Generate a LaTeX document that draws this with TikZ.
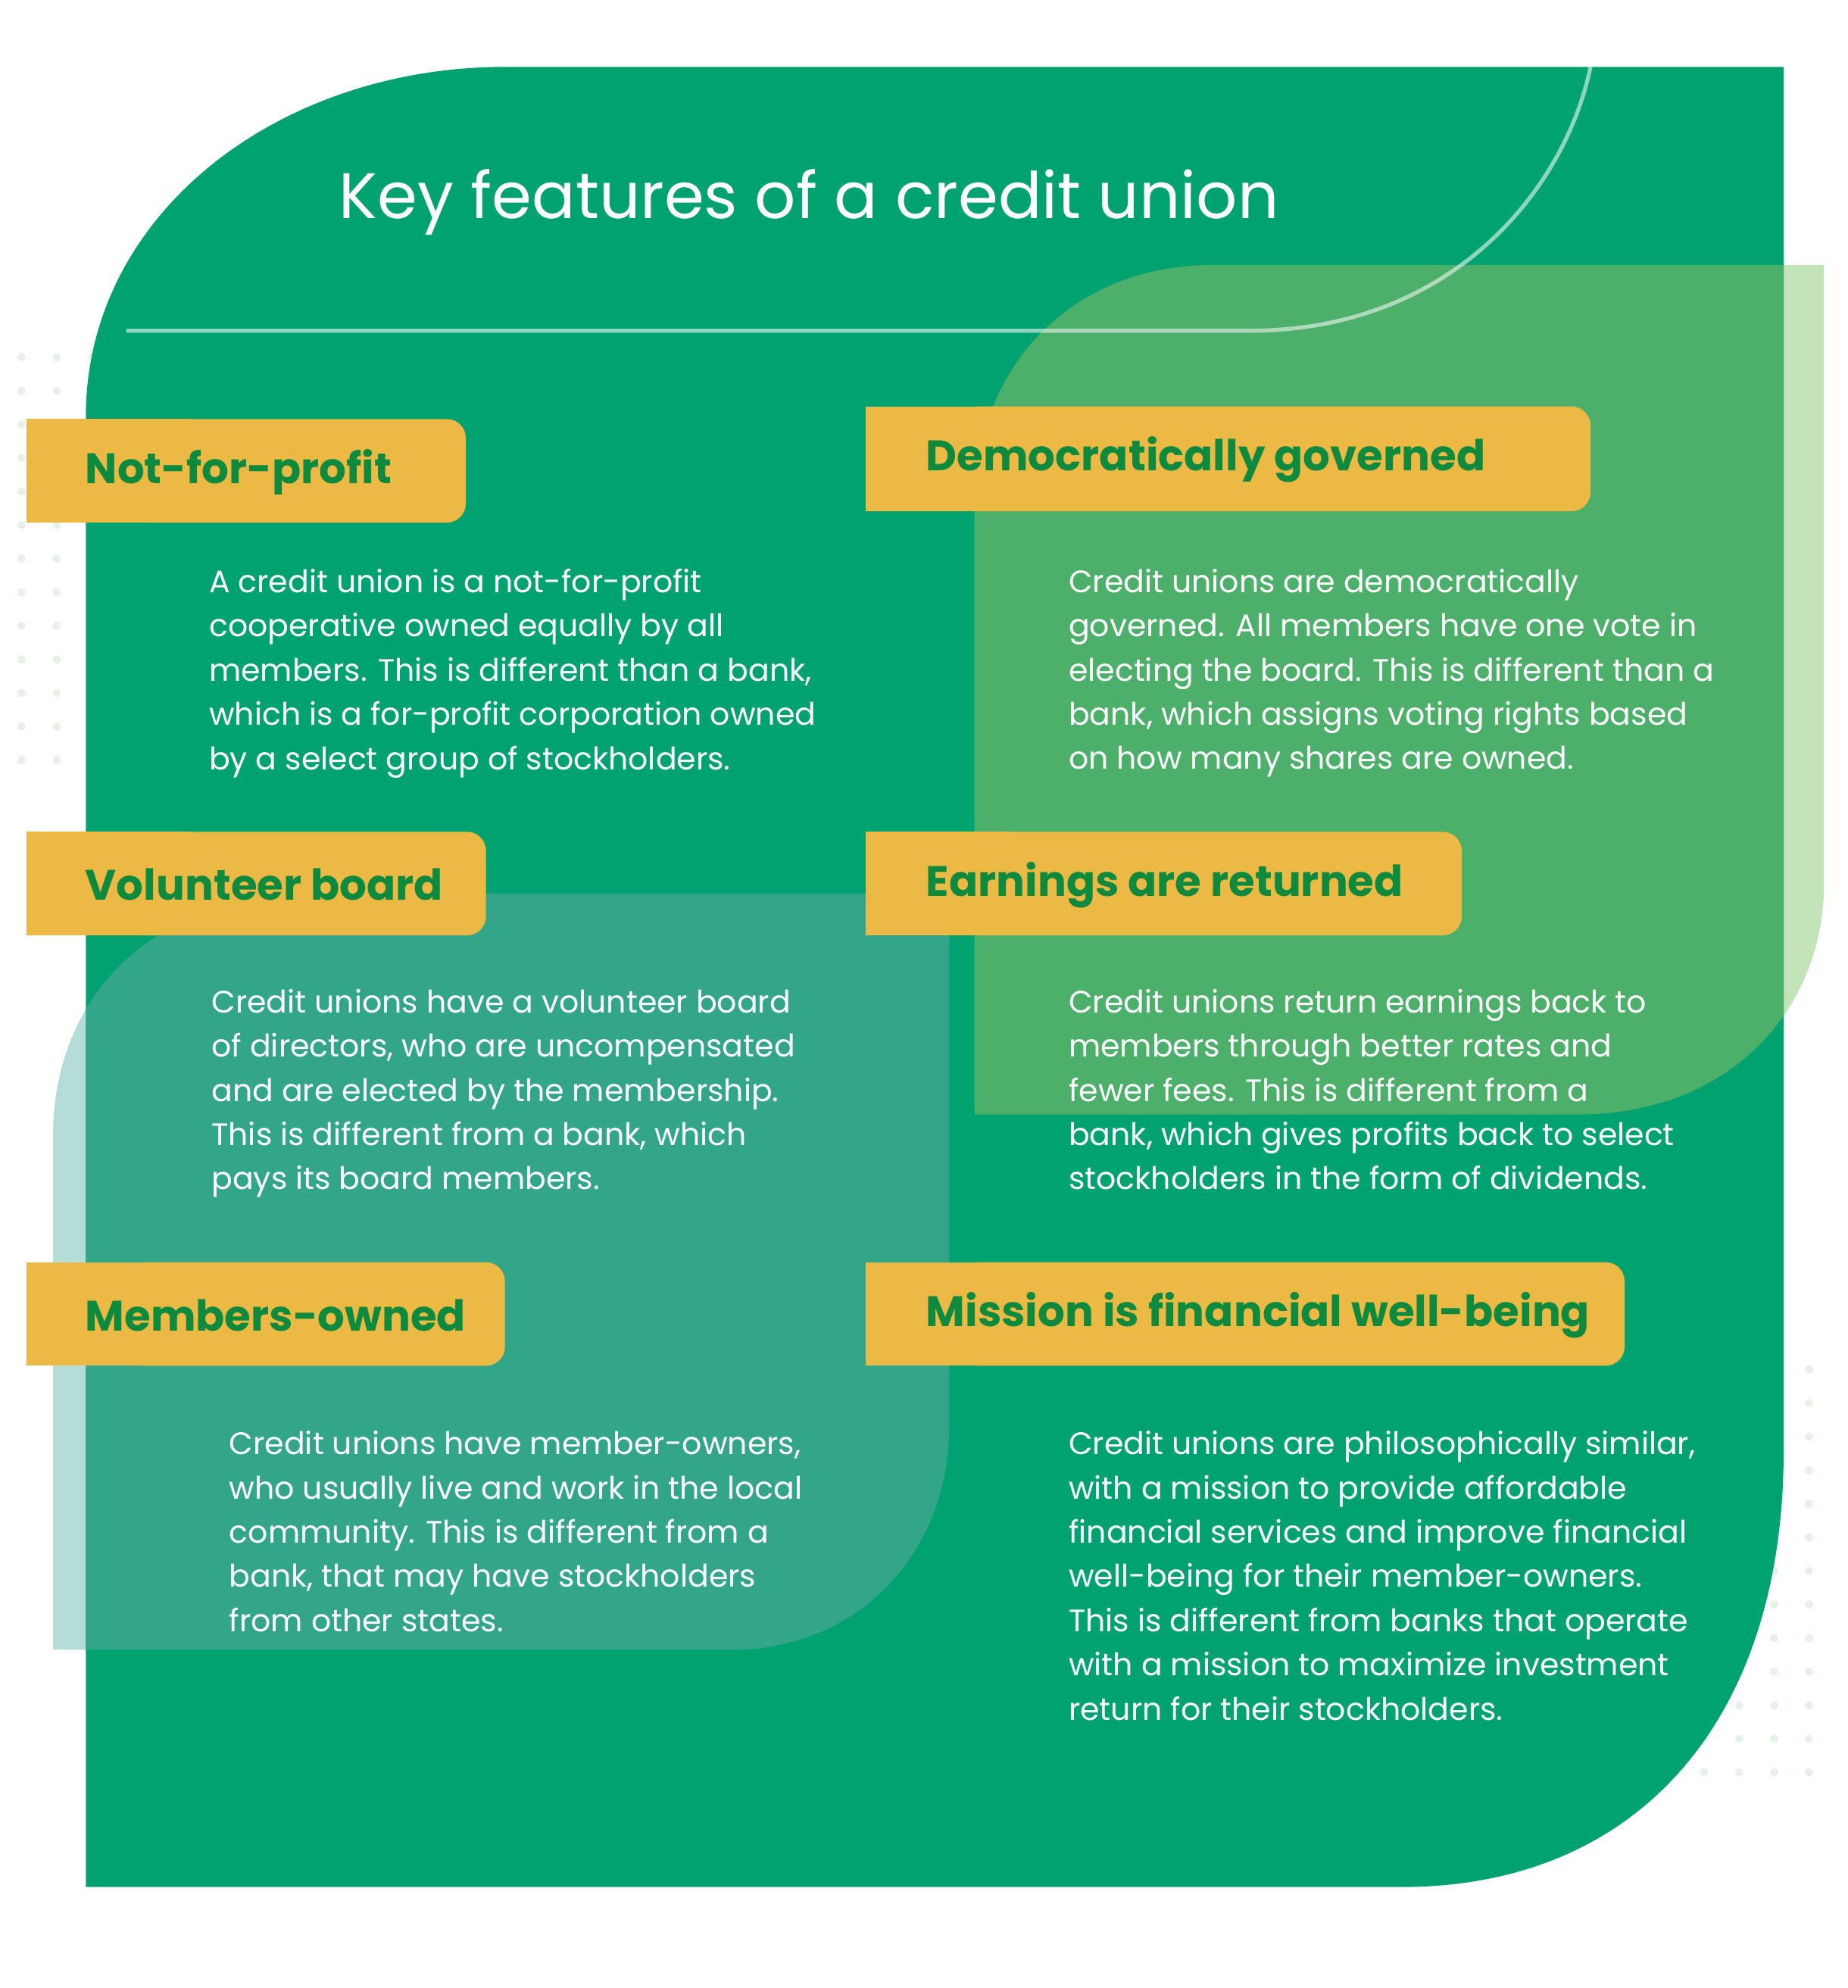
\documentclass[tikz,border=0pt]{standalone}
\usepackage{fontspec}
\setmainfont{Poppins}
\usepackage{tikz}
\definecolor{cugreen}{HTML}{00A36F}
\definecolor{cumid}{HTML}{4CAF6A}
\definecolor{cupale}{HTML}{C3E3B8}
\definecolor{cuteal}{HTML}{33A68A}
\definecolor{cutealpale}{HTML}{B5DDD8}
\definecolor{cuyellow}{HTML}{ECB944}
\definecolor{cudark}{HTML}{0E8A3E}
\definecolor{cudot}{HTML}{E6F2E6}
\tikzset{
  tagtext/.style={text=cudark, font=\fontsize{9.6}{11}\selectfont\bfseries, anchor=west, inner sep=0pt},
  body/.style={text=white, font=\fontsize{7}{9.96}\selectfont, anchor=north west, align=left, inner sep=0pt}
}
\newcommand{\tagbox}[3]{% x-right, y-top, y-bottom
  \fill[cuyellow, rounded corners=0.15cm] (100,#2) rectangle (#1,#3);
  \fill[cuyellow] (21,#2) rectangle (150,#3);}
\newcommand{\tagboxr}[3]{%
  \fill[cuyellow, rounded corners=0.15cm] (760,#2) rectangle (#1,#3);
  \fill[cuyellow] (686,#2) rectangle (800,#3);}
\begin{document}
\begin{tikzpicture}[x=0.01cm, y=-0.01cm]
  \useasboundingbox (0,0) rectangle (1464,1575);
  % dots
  \foreach \i in {0,...,12} \foreach \j in {0,...,2}
    \fill[cudot] (17+\j*28, 283+\i*26.6) circle (3.3);
  \foreach \i in {0,...,12} \foreach \j in {0,...,3}
    \fill[cudot] (1350+\j*27.7, 1085+\i*26.6) circle (3.3);
  % back shapes
  \def\lightpath{(772,883) -- (772,400) .. controls (772,290) and (850,210) .. (960,210) -- (1445,210) -- (1445,700) .. controls (1445,800) and (1370,883) .. (1250,883) -- cycle}
  \def\tealpath{(42,1307) -- (42,900) .. controls (42,790) and (120,708) .. (250,708) -- (752,708) -- (752,1130) .. controls (752,1230) and (680,1307) .. (580,1307) -- cycle}
  \def\mainpath{(68,1495) -- (68,330) .. controls (68,170) and (220,53) .. (400,53) -- (1413,53) -- (1413,1150) .. controls (1413,1360) and (1300,1495) .. (1110,1495) -- cycle}
  \fill[cupale] \lightpath;
  \fill[cutealpale] \tealpath;
  \fill[cugreen] \mainpath;
  \begin{scope}
    \clip \mainpath;
    \fill[cumid] \lightpath;
    \fill[cuteal] \tealpath;
  \end{scope}
  \draw[white, opacity=0.55, line width=0.9pt] (100,262) -- (990,262) .. controls (1150,262) and (1240,150) .. (1260,53);
  % title
  \node[text=white, font=\fontsize{14.5}{17}\selectfont, anchor=west, inner sep=0pt] (title) at (268,160) {Key features of a credit union};
  % tags
  \tagbox{369}{332}{414}
  \node[tagtext] (t1) at (67,374) {Not-for-profit};
  \tagbox{385}{659}{741}
  \node[tagtext] (t2) at (67,701) {Volunteer board};
  \tagbox{400}{1000}{1082}
  \node[tagtext] (t3) at (67,1042) {Members-owned};
  \tagboxr{1260}{322}{405}
  \node[tagtext] (t4) at (733,364) {Democratically governed};
  \tagboxr{1158}{659}{741}
  \node[tagtext] (t5) at (733,701) {Earnings are returned};
  \tagboxr{1287}{1000}{1082}
  \node[tagtext] (t6) at (733,1042) {Mission is financial well-being};
  % bodies
  \node[body] (b1) at (165,450) {A credit union is a not-for-profit\\cooperative owned equally by all\\members. This is different than a bank,\\which is a for-profit corporation owned\\by a select group of stockholders.};
  \node[body] (b2) at (167,783) {Credit unions have a volunteer board\\of directors, who are uncompensated\\and are elected by the membership.\\This is different from a bank, which\\pays its board members.};
  \node[body] (b3) at (181,1133) {Credit unions have member-owners,\\who usually live and work in the local\\community. This is different from a\\bank, that may have stockholders\\from other states.};
  \node[body] (b4) at (846,450) {Credit unions are democratically\\governed. All members have one vote in\\electing the board. This is different than a\\bank, which assigns voting rights based\\on how many shares are owned.};
  \node[body] (b5) at (846,783) {Credit unions return earnings back to\\members through better rates and\\fewer fees. This is different from a\\bank, which gives profits back to select\\stockholders in the form of dividends.};
  \node[body] (b6) at (846,1133) {Credit unions are philosophically similar,\\with a mission to provide affordable\\financial services and improve financial\\well-being for their member-owners.\\This is different from banks that operate\\with a mission to maximize investment\\return for their stockholders.};
\end{tikzpicture}
\end{document}
